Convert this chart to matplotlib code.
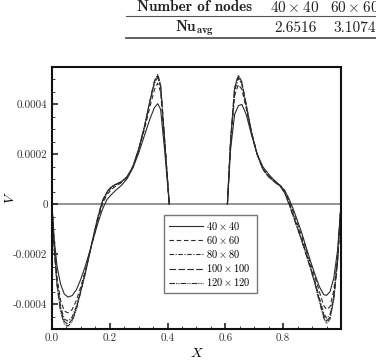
import matplotlib
matplotlib.use("Agg")
import matplotlib.pyplot as plt
import numpy as np
from matplotlib.lines import Line2D
from matplotlib.ticker import FixedLocator, FixedFormatter, MultipleLocator

plt.rcParams["mathtext.fontset"] = "cm"
plt.rcParams["font.family"] = ["cmr10", "DejaVu Serif"]
plt.rcParams["axes.unicode_minus"] = False

# x positions along the centreline (left and right halves)
X_LEFT = [0.0, 0.008, 0.018, 0.030, 0.043, 0.056, 0.070, 0.085, 0.100, 0.115,
          0.130, 0.145, 0.160, 0.175, 0.190, 0.205, 0.220, 0.240, 0.260, 0.280,
          0.300, 0.320, 0.340, 0.355, 0.366, 0.376, 0.390, 0.406]
X_RIGHT = [0.607, 0.618, 0.632, 0.645, 0.657, 0.672, 0.690, 0.710, 0.730, 0.750,
           0.770, 0.790, 0.805, 0.820, 0.835, 0.850, 0.865, 0.880, 0.895, 0.910,
           0.925, 0.940, 0.950, 0.962, 0.975, 0.988, 1.0]

# V values in units of 1e-4
V40_L = [0, -1.4, -2.5, -3.2, -3.6, -3.72, -3.66, -3.42, -3.0, -2.5, -1.92, -1.32, -0.72, -0.2,
         0.18, 0.38, 0.55, 0.75, 1.02, 1.45, 2.05, 2.75, 3.45, 3.88, 4.03, 3.8, 2.15, 0]
V60_L = [0, -1.6, -2.95, -3.85, -4.28, -4.35, -4.22, -3.85, -3.3, -2.68, -1.98, -1.28, -0.6, 0.0,
         0.38, 0.58, 0.72, 0.86, 1.08, 1.48, 2.15, 3.0, 3.95, 4.6, 4.85, 4.5, 2.45, 0]
V80_L = [0, -1.7, -3.1, -4.1, -4.6, -4.68, -4.52, -4.08, -3.45, -2.76, -2.0, -1.24, -0.52, 0.08,
         0.45, 0.65, 0.77, 0.89, 1.1, 1.5, 2.2, 3.1, 4.15, 4.85, 5.08, 4.7, 2.55, 0]
V100_L = [0, -1.75, -3.2, -4.2, -4.7, -4.8, -4.62, -4.15, -3.48, -2.78, -2.0, -1.22, -0.48, 0.12,
          0.48, 0.68, 0.79, 0.9, 1.1, 1.5, 2.2, 3.1, 4.2, 4.92, 5.15, 4.75, 2.6, 0]
V120_L = [0, -1.8, -3.3, -4.3, -4.8, -4.88, -4.7, -4.2, -3.5, -2.8, -2.0, -1.2, -0.45, 0.15,
          0.5, 0.7, 0.8, 0.9, 1.1, 1.5, 2.2, 3.1, 4.2, 4.95, 5.2, 4.8, 2.6, 0]

V40_R = [0, 2.2, 3.6, 3.95, 4.0, 3.6, 2.8, 2.0, 1.5, 1.2, 0.95, 0.75, 0.55, 0.22, -0.2, -0.68,
         -1.18, -1.75, -2.3, -2.82, -3.3, -3.62, -3.65, -3.5, -2.95, -1.85, 0]
V60_R = [0, 2.4, 4.35, 4.8, 4.6, 3.85, 2.85, 2.0, 1.42, 1.12, 0.92, 0.75, 0.55, 0.15, -0.32, -0.8,
         -1.3, -1.84, -2.38, -2.92, -3.5, -4.05, -4.22, -4.1, -3.45, -2.12, 0]
V80_R = [0, 2.5, 4.55, 5.05, 4.8, 3.95, 2.9, 2.0, 1.4, 1.1, 0.9, 0.73, 0.5, 0.08, -0.42, -0.92,
         -1.42, -1.97, -2.52, -3.1, -3.75, -4.35, -4.57, -4.42, -3.68, -2.24, 0]
V100_R = [0, 2.55, 4.65, 5.12, 4.85, 3.98, 2.9, 2.0, 1.4, 1.1, 0.9, 0.72, 0.47, 0.03, -0.47, -0.97,
          -1.47, -2.02, -2.57, -3.16, -3.84, -4.45, -4.68, -4.52, -3.75, -2.28, 0]
V120_R = [0, 2.6, 4.7, 5.18, 4.9, 4.0, 2.9, 2.0, 1.4, 1.1, 0.9, 0.72, 0.45, 0.0, -0.5, -1.0,
          -1.5, -2.05, -2.6, -3.2, -3.9, -4.55, -4.78, -4.6, -3.8, -2.3, 0]

LABELS = [r"$40\times40$", r"$60\times60$", r"$80\times80$", r"$100\times100$", r"$120\times120$"]
DASHES = [None, (4, 2.5), (4, 1.5, 1, 1.5), (6, 2), (5, 1, 1, 1, 1, 1)]

X_TICKS = [0.0, 0.2, 0.4, 0.6, 0.8]
X_TICK_LABELS = ["0.0", "0.2", "0.4", "0.6", "0.8"]
Y_TICKS = [-0.0004, -0.0002, 0.0, 0.0002, 0.0004]
Y_TICK_LABELS = ["-0.0004", "-0.0002", "0", "0.0002", "0.0004"]

TABLE_HEAD = ["Number of nodes", r"$40\times40$", r"$60\times60$"]
TABLE_ROW = [r"$\mathbf{Nu}_{\mathbf{avg}}$", "2.6516", "3.1074"]

fig = plt.figure(figsize=(3.76, 3.62), dpi=100)
ax = fig.add_axes([0.138, 0.091, 0.769, 0.724])

halves = [
    (X_LEFT, X_RIGHT, V40_L, V40_R),
    (X_LEFT, X_RIGHT, V60_L, V60_R),
    (X_LEFT, X_RIGHT, V80_L, V80_R),
    (X_LEFT, X_RIGHT, V100_L, V100_R),
    (X_LEFT, X_RIGHT, V120_L, V120_R),
]

ax.axhline(0, color="#8a8a8a", lw=1.3, zorder=1)
for (xl, xr, vl, vr), lab, dash in zip(halves, LABELS, DASHES):
    for xs, vs, lb in ((xl, vl, lab), (xr, vr, None)):
        line, = ax.plot(xs, np.array(vs) * 1e-4, color="#2a2a2a", lw=0.8, label=lb, zorder=2)
        if dash is not None:
            line.set_dashes(dash)

ax.set_xlim(0, 1)
ax.set_ylim(-0.0005, 0.00055)
ax.xaxis.set_major_locator(FixedLocator(X_TICKS))
ax.xaxis.set_major_formatter(FixedFormatter(X_TICK_LABELS))
ax.yaxis.set_major_locator(FixedLocator(Y_TICKS))
ax.yaxis.set_major_formatter(FixedFormatter(Y_TICK_LABELS))
ax.xaxis.set_minor_locator(MultipleLocator(0.05))
ax.yaxis.set_minor_locator(MultipleLocator(0.00005))
ax.tick_params(which="both", direction="in", top=False, right=False, labelsize=8,
               color="#222222", labelcolor="#333333")
ax.tick_params(which="major", length=4, width=1.2, pad=3)
ax.tick_params(which="minor", length=2, width=0.6)
for s in ax.spines.values():
    s.set_linewidth(1.5)
    s.set_color("#111111")

ax.set_xlabel(r"$X$", fontsize=10, labelpad=3)
ax.set_ylabel(r"$V$", fontsize=10)
ax.yaxis.set_label_coords(-0.122, 0.5)

leg = ax.legend(loc="lower left", bbox_to_anchor=(0.37, 0.118, 0.357, 0.252), mode="expand",
                fontsize=7.5, handlelength=3.3, handletextpad=0.3, labelspacing=0.2,
                borderpad=0.45, fancybox=False, framealpha=1)
leg.get_frame().set_edgecolor("#777777")
leg.get_frame().set_linewidth(1.0)

# table fragment at the top of the page
fig.add_artist(Line2D([126 / 376, 1.0], [1 - 15.5 / 362] * 2, color="#555555", lw=0.8))
fig.add_artist(Line2D([126 / 376, 1.0], [1 - 38 / 362] * 2, color="#555555", lw=1.3))
col_x = [195 / 376, 295 / 376, 355 / 376]
for cx, txt in zip(col_x, TABLE_HEAD):
    fam = "cmb10" if txt.startswith("Number") else ["cmr10", "DejaVu Serif"]
    fig.text(cx, 1 - 7 / 362, txt, ha="center", va="center", fontsize=11,
             family=fam, color="#222222")
for cx, txt in zip(col_x, TABLE_ROW):
    fig.text(cx, 1 - 28 / 362, txt, ha="center", va="center", fontsize=11, color="#222222")

fig.savefig("out.png", dpi=100)
